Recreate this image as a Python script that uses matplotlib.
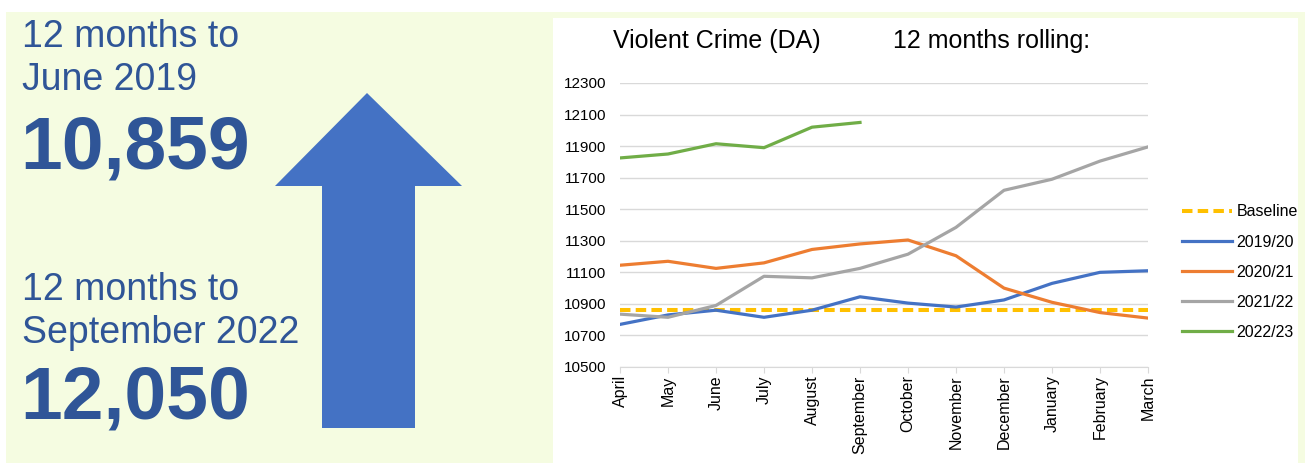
import matplotlib.pyplot as plt
from matplotlib.patches import Rectangle, Polygon

plt.rcParams['font.family'] = ['Liberation Sans', 'DejaVu Sans']

months = ['April', 'May', 'June', 'July', 'August', 'September', 'October',
          'November', 'December', 'January', 'February', 'March']
baseline = [10859] * 12
fy_2019 = [10770, 10830, 10860, 10815, 10860, 10945, 10905, 10880, 10925, 11030, 11100, 11110]
fy_2020 = [11145, 11170, 11125, 11160, 11245, 11280, 11305, 11205, 11000, 10910, 10845, 10810]
fy_2021 = [10835, 10815, 10890, 11075, 11065, 11125, 11215, 11385, 11620, 11690, 11805, 11895]
fy_2022 = [11825, 11850, 11915, 11890, 12020, 12050]
y_ticks = [10500, 10700, 10900, 11100, 11300, 11500, 11700, 11900, 12100, 12300]

W, H = 1311, 467
fig = plt.figure(figsize=(W / 100, H / 100), dpi=100)
fig.patch.set_facecolor('white')


def fx(x):
    return x / W


def fy(y):
    return 1 - y / H


# background panels
fig.patches.append(Rectangle((fx(6), fy(463)), fx(1305) - fx(6), fy(12) - fy(463),
                             transform=fig.transFigure, facecolor='#F5FCE1', edgecolor='none', zorder=-3))
fig.patches.append(Rectangle((fx(553), fy(463)), fx(1298) - fx(553), fy(18) - fy(463),
                             transform=fig.transFigure, facecolor='white', edgecolor='none', zorder=-2))

# up arrow
arrow = [(322, 428), (322, 186), (275, 186), (367, 93), (462, 186), (415, 186), (415, 428)]
fig.patches.append(Polygon([(fx(x), fy(y)) for x, y in arrow], closed=True,
                           transform=fig.transFigure, facecolor='#4472C4', edgecolor='none', zorder=1))

txt = '#2F5597'
fig.text(fx(22), fy(47), '12 months to', fontsize=27, color=txt, va='baseline')
fig.text(fx(22), fy(90), 'June 2019', fontsize=27, color=txt, va='baseline')
fig.text(fx(20), fy(168), '10,859', fontsize=54, color=txt, weight='bold', va='baseline')
fig.text(fx(22), fy(300), '12 months to', fontsize=27, color=txt, va='baseline')
fig.text(fx(22), fy(343), 'September 2022', fontsize=27, color=txt, va='baseline')
fig.text(fx(20), fy(418), '12,050', fontsize=54, color=txt, weight='bold', va='baseline')

# line chart
ax = fig.add_axes([fx(620), fy(367), fx(1148) - fx(620), fy(83) - fy(367)])
ax.set_facecolor('none')
ax.set_zorder(2)
x = range(len(months))
ax.plot(x, baseline, color='#FFC000', lw=2.9, ls=(0, (2.6, 1.3)), label='Baseline', zorder=3)
ax.plot(x, fy_2019, color='#4472C4', lw=2.3, label='2019/20', zorder=4)
ax.plot(x, fy_2020, color='#ED7D31', lw=2.3, label='2020/21', zorder=4)
ax.plot(x, fy_2021, color='#A5A5A5', lw=2.3, label='2021/22', zorder=4)
ax.plot(range(len(fy_2022)), fy_2022, color='#70AD47', lw=2.3, label='2022/23', zorder=4)

ax.set_xlim(0, len(months) - 1)
ax.set_ylim(10500, 12300)
ax.set_yticks(y_ticks)
ax.set_xticks(list(x))
ax.set_xticklabels(months, rotation=90)
ax.tick_params(axis='y', length=0, labelsize=11, pad=10)
ax.tick_params(axis='x', length=4, color='#D9D9D9', labelsize=11.5, pad=2)
ax.grid(axis='y', color='#D9D9D9', lw=1)
ax.set_axisbelow(True)
for s in ['top', 'right', 'left']:
    ax.spines[s].set_visible(False)
ax.spines['bottom'].set_color('#D9D9D9')

fig.text(fx(613), fy(48), 'Violent Crime (DA)', fontsize=18, va='baseline')
fig.text(fx(893), fy(48), '12 months rolling:', fontsize=18, va='baseline')

fig.legend(loc='upper left', bbox_to_anchor=(fx(1168), fy(190)), frameon=False,
           fontsize=11.5, handlelength=3.1, handletextpad=0.3, labelspacing=0.95)

fig.savefig('out.png', dpi=100, facecolor=fig.get_facecolor())
